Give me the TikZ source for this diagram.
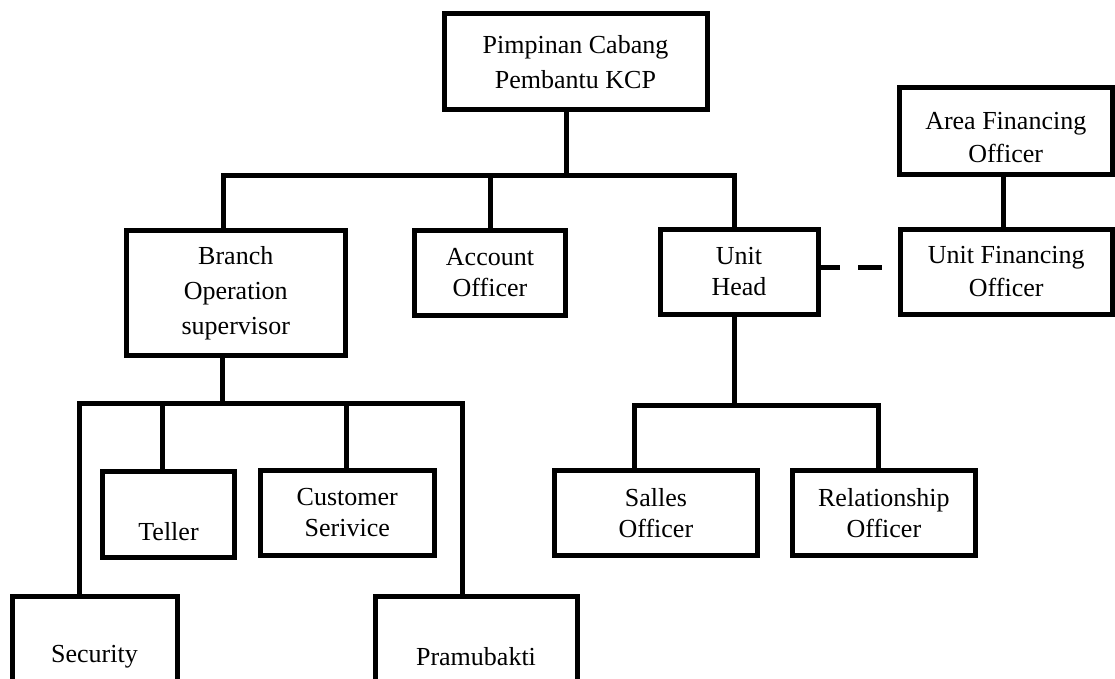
\documentclass[tikz,border=0pt]{standalone}
\usepackage{fontspec}
\setmainfont{Liberation Serif}
\begin{document}
\begin{tikzpicture}[x=1pt,y=-1pt,
  orgbox/.style={draw, line width=5pt, rectangle, inner sep=0pt, outer sep=0pt,
    align=center, font=\fontsize{26}{31}\selectfont},
  conn/.style={line width=5pt}]
\useasboundingbox (0,0) rectangle (1115,679);
\fill[white] (0,0) rectangle (1115,679);
\clip (0,0) rectangle (1115,679);

% boxes
\node[orgbox, minimum width=263pt, minimum height=96.5pt, font=\fontsize{26}{35}\selectfont]
  (pim) at (575.5,61.75) {Pimpinan Cabang\\Pembantu KCP};
\node[orgbox, minimum width=219.5pt, minimum height=125pt, font=\fontsize{26}{35}\selectfont]
  (branch) at (235.75,293) {Branch\\Operation\\supervisor};
\node[orgbox, minimum width=151pt, minimum height=84.5pt]
  (account) at (490,272.75) {Account\\Officer};
\node[orgbox, minimum width=158pt, minimum height=85.5pt]
  (unithead) at (739,271.75) {Unit\\Head};
\node[orgbox, minimum width=213.5pt, minimum height=87pt, font=\fontsize{26}{33}\selectfont]
  (area) at (1005.75,131) {\rule{0pt}{30pt}Area Financing\\Officer};
\node[orgbox, minimum width=212.5pt, minimum height=85.5pt, font=\fontsize{26}{33}\selectfont]
  (ufo) at (1006.25,271.75) {Unit Financing\\Officer};
\node[orgbox, minimum width=132pt, minimum height=86.5pt]
  (teller) at (168.5,514.25) {\strut\\Teller};
\node[orgbox, minimum width=174.5pt, minimum height=85pt]
  (customer) at (347.25,513) {Customer\\Serivice};
\node[orgbox, minimum width=203.7pt, minimum height=85pt]
  (salles) at (655.85,513.2) {Salles\\Officer};
\node[orgbox, minimum width=183.7pt, minimum height=85pt]
  (relation) at (883.85,513.2) {Relationship\\Officer};
\node[orgbox, minimum width=165pt, minimum height=122pt]
  (security) at (94.5,657) {Security};
\node[orgbox, minimum width=202pt, minimum height=122pt]
  (pramu) at (476,657) {Pramubakti};

% junction points
\coordinate (pt) at (566,176);
\coordinate (bl) at (223,176);
\coordinate (br) at (734,176);
\coordinate (at) at (490,176);
\coordinate (bj) at (222,403);
\coordinate (sl) at (79,403);
\coordinate (sr) at (462,403);
\coordinate (tj) at (162,403);
\coordinate (cj) at (346,403);
\coordinate (uj) at (734,405.5);
\coordinate (ul) at (634,405.5);
\coordinate (ur) at (878,405.5);

% connectors
\draw[conn] (pim.south -| pt) -- (pt);
\draw[conn] (branch.north -| bl) |- (br) -- (unithead.north -| br);
\draw[conn] (at) -- (account.north -| at);

\draw[conn] (branch.south -| bj) -- (bj);
\draw[conn] (security.north -| sl) |- (sr) -- (pramu.north -| sr);
\draw[conn] (tj) -- (teller.north -| tj);
\draw[conn] (cj) -- (customer.north -| cj);

\draw[conn] (unithead.south -| uj) -- (uj);
\draw[conn] (salles.north -| ul) |- (ur) -- (relation.north -| ur);

\draw[conn] ([xshift=-2pt]area.south) -- ([xshift=-2pt]area.south |- ufo.north);
\draw[conn, dash pattern=on 22pt off 18pt on 24pt off 16pt]
  ([yshift=4.5pt]unithead.east) -- ([yshift=4.5pt]ufo.west);
\end{tikzpicture}
\end{document}
